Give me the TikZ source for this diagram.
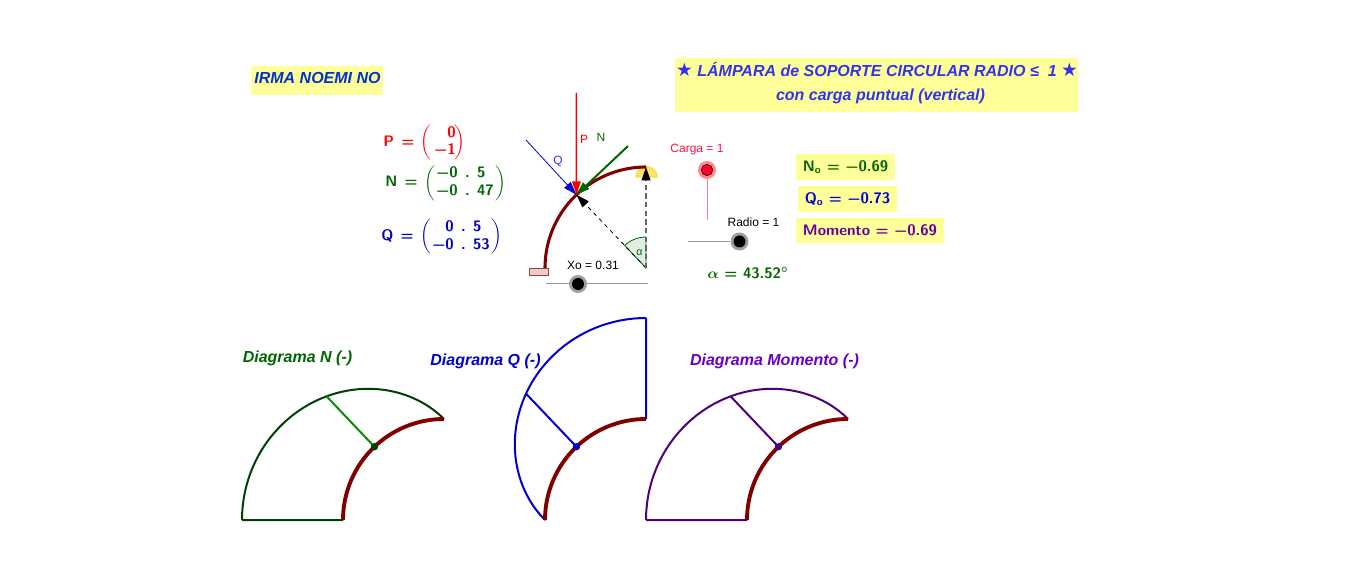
\documentclass[tikz,border=0pt]{standalone}
\usepackage{fontspec}
\usepackage{amsmath}
\newfontfamily\lib{Liberation Sans}
\newfontfamily\sym{DejaVu Sans}
\usetikzlibrary{arrows.meta}
\definecolor{ybox}{HTML}{FFFF99}
\definecolor{titleblue}{HTML}{3333EE}
\definecolor{irmablue}{HTML}{0033CC}
\definecolor{gr}{HTML}{006600}
\definecolor{bl}{HTML}{0000CC}
\definecolor{pu}{HTML}{660099}
\definecolor{dmom}{HTML}{6600CC}
\definecolor{arch}{HTML}{800000}
\definecolor{outerN}{HTML}{004000}
\definecolor{radN}{HTML}{0A8A0A}
\definecolor{outerM}{HTML}{4C0080}
\definecolor{pinkline}{RGB}{255,120,140}
\newcommand{\fpx}[1]{\fontsize{#1}{#1}\selectfont}
\newcommand{\mtx}[2][1.18]{$\left(\hspace{1pt}\def\arraystretch{#1}\begin{tabular}{@{}r@{\hspace{5.5pt}}c@{\hspace{5.5pt}}l@{}}#2\end{tabular}\hspace{1pt}\right)$}
\newcommand{\mtxp}[1]{$\left(\hspace{2pt}\def\arraystretch{1.12}\begin{tabular}{@{}r@{}}#1\end{tabular}\hspace{-1pt}\right)$}
\newcommand{\mnus}{\char"2212 }
\newcommand{\eqs}{\hspace{5.5pt}=\hspace{5pt}}
\newcommand{\bigstar}{{\sym\fontsize{14pt}{12pt}\selectfont\char"2605}}
\newsavebox{\alphabox}
\tikzset{
  ybg/.style={fill=ybox,draw=none,inner sep=0pt,align=center},
  bi/.style={font=\lib\bfseries\itshape\fpx{12pt},inner sep=0pt},
  tx/.style={font=\lib\bfseries\itshape\fpx{12pt},inner sep=0pt,align=center},
  mth/.style={font=\sffamily\bfseries\fpx{11.4pt},inner sep=0pt},
  small/.style={font=\lib\fpx{9pt},inner sep=0pt},
  archtop/.style={draw=arch,line width=2.3pt},
  archline/.style={draw=arch,line width=2.9pt},
  outer/.style={line width=1.5pt,line join=round},
  radius line/.style={line width=1.5pt},
  dot/.style={circle,inner sep=0pt,minimum size=5.5pt},
  halo/.style={circle,inner sep=0pt,minimum size=13.5pt,fill=gray!75},
  knob/.style={circle,inner sep=0pt,minimum size=9pt,fill=black},
  tip/.style={-{Triangle[length=10pt,width=6.5pt]}},
  sld/.style={draw=gray!80,line width=.6pt},
}
\begin{document}
\sbox{\alphabox}{\color{gr}\fontsize{11.4pt}{11.4pt}\selectfont\sffamily\bfseries\boldmath$\alpha$ = 43.52$^\circ$}
\begin{tikzpicture}[x=0.75pt,y=-0.75pt]
\useasboundingbox (0,0) rectangle (1366,566);
\fill[white] (0,0) rectangle (1366,566);
% yellow boxes
\node[ybg,minimum width=99pt,minimum height=21.75pt] (irma) at (317,80.5) {};
\node[tx,text=irmablue] (irmat) at (317.5,78) {IRMA NOEMI NO};
\node[ybg,minimum width=302.25pt,minimum height=40.5pt] (title) at (876.5,85) {};
\node[tx,text=titleblue] (titlet) at (877,83) {\bigstar\ LÁMPARA de SOPORTE CIRCULAR RADIO ≤\ \ 1 \bigstar\\[6pt]\hspace*{5.25pt}con carga puntual (vertical)};
\node[ybg,mth,minimum width=74.25pt,minimum height=19.5pt,text=gr] (no) at (845.5,167) {N$_{\text{o}}$ = \mnus 0.69};
\node[ybg,mth,minimum width=74.25pt,minimum height=19.5pt,text=bl] (qo) at (847.5,199) {Q$_{\text{o}}$ = \mnus 0.73};
\node[ybg,mth,minimum width=111pt,minimum height=18.75pt,text=pu] (mo) at (870,230.5) {Momento = \mnus 0.69};
% matrices
\node[mth,text=red,anchor=west] (mP) at (383,142.5) {P\eqs\mtxp{0\\\mnus 1}};
\node[mth,text=gr,anchor=west] (mN) at (385,183) {N\eqs\mtx{\mnus 0&.&5\\\mnus 0&.&47}};
\node[mth,text=bl,anchor=west] (mQ) at (381,236.5) {Q\eqs\mtx{0&.&5\\\mnus 0&.&53}};
% top structure
\coordinate (C) at (646,268);
\coordinate (A) at ({646-101*sin(43.52)},{268-101*cos(43.52)});
\coordinate (T) at (646,167);
\coordinate (Ptop) at (576.3,93);
\coordinate (Qtop) at (526,140);
\coordinate (Ntop) at (628,146);
% support and lamp
\node[draw={rgb,255:red,165;green,60;blue,60},fill={rgb,255:red,235;green,205;blue,200},line width=.8pt,minimum width=14.2pt,minimum height=5.4pt,inner sep=0pt] (base) at (539,272) {};
\filldraw[fill={rgb,255:red,255;green,225;blue,110},draw={rgb,255:red,255;green,220;blue,40},line width=.8pt]
  (636,177) arc[start angle=180,end angle=0,radius=7.9pt] -- cycle;
\filldraw[fill=gr!12,draw=gr,line width=.6pt] (C) -- ++(0,-31) arc[start angle=90,end angle=133.52,radius=23.25pt] -- cycle;
\draw[archtop] plot[domain=0:90,samples=60] ({646-101*sin(\x)},{268-101*cos(\x)});
\draw[tip,dashed,black,line width=.6pt] (C) -- (A);
\draw[black!60,line width=1.2pt,dash pattern=on 4pt off 2.5pt,-{Triangle[length=10pt,width=6.5pt,color=black,fill=black]}] (C) -- (T);
\node[font=\lib\fpx{8pt},text=gr,inner sep=0pt] (alab) at (639.5,253) {α};
\draw[tip,bl,line width=.6pt] (Qtop) -- (A);
\draw[tip,gr,line width=1.5pt] (Ntop) -- (A);
\draw[tip,red,line width=1.1pt] (Ptop) -- (A);
\node[small,text=red] (lp) at (584,139) {P};
\node[small,text=gr] (ln) at (601,137) {N};
\node[small,text=titleblue] (lq) at (558,161) {Q};
% sliders
\coordinate (x1) at (546,283); \coordinate (x2) at (648,283);
\draw[sld] (x1) -- (x2);
\node[halo] (xk) at (578,284) {}; \node[knob] at (xk) {};
\node[small] (xl) at (593,265) {Xo = 0.31};
\node[circle,inner sep=0pt,minimum size=13.5pt,fill=red!45] (ck) at (707,170) {};
\coordinate (c2) at (707,220);
\draw[draw=pinkline,line width=.7pt] (ck) -- (c2);
\node[circle,draw=black!80!red,line width=.5pt,inner sep=0pt,minimum size=8.5pt,fill={rgb,255:red,255;green,0;blue,50}] at (ck) {};
\node[small,text={rgb,255:red,255;green,20;blue,70}] (cl) at (697,149.5) {Carga = 1};
\coordinate (r1) at (688,241.5);
\node[halo] (rk) at (739.5,241.5) {};
\draw[sld] (r1) -- (rk);
\node[knob] at (rk) {};
\node[small] (rl) at (753.5,222) {Radio = 1};
\node[mth,text=gr] (al) at (748,273) {\usebox{\alphabox}};
% diagram titles
\node[bi,text=gr] (dn) at (297.5,358) {Diagrama N (-)};
\node[bi,text=bl] (dq) at (485.5,361) {Diagrama Q (-)};
\node[bi,text=dmom] (dm) at (774.5,361) {Diagrama Momento (-)};
% Diagram N
\draw[outer,draw=outerN] (343,520) -- (242,520)
  plot[domain=90:0,samples=80] ({444-101*(1+sin(\x))*sin(\x)},{520-101*(1+sin(\x))*cos(\x)});
\coordinate (pn) at ({444-101*sin(43.52)},{520-101*cos(43.52)});
\coordinate (qn) at ({444-101*(1+sin(43.52))*sin(43.52)},{520-101*(1+sin(43.52))*cos(43.52)});
\draw[radius line,draw=radN] (qn) -- (pn);
\draw[archline] plot[domain=0:90,samples=60] ({444-101*sin(\x)},{520-101*cos(\x)});
\node[dot,fill=outerN] at (pn) {};
% Diagram Q
\draw[outer,draw=bl] (646,419) -- (646,318)
  plot[domain=0:90,samples=80] ({646-101*(1+cos(\x))*sin(\x)},{520-101*(1+cos(\x))*cos(\x)});
\coordinate (pq) at ({646-101*sin(43.52)},{520-101*cos(43.52)});
\coordinate (qq) at ({646-101*(1+cos(43.52))*sin(43.52)},{520-101*(1+cos(43.52))*cos(43.52)});
\draw[radius line,draw=bl] (qq) -- (pq);
\draw[archline] plot[domain=0:90,samples=60] ({646-101*sin(\x)},{520-101*cos(\x)});
\node[dot,fill=bl] at (pq) {};
% Diagram M
\draw[outer,draw=outerM] (747,520) -- (646,520)
  plot[domain=90:0,samples=80] ({848-101*(1+sin(\x))*sin(\x)},{520-101*(1+sin(\x))*cos(\x)});
\coordinate (pm) at ({848-101*sin(43.52)},{520-101*cos(43.52)});
\coordinate (qm) at ({848-101*(1+sin(43.52))*sin(43.52)},{520-101*(1+sin(43.52))*cos(43.52)});
\draw[radius line,draw=outerM] (qm) -- (pm);
\draw[archline] plot[domain=0:90,samples=60] ({848-101*sin(\x)},{520-101*cos(\x)});
\node[dot,fill=outerM] at (pm) {};
\end{tikzpicture}
\end{document}
